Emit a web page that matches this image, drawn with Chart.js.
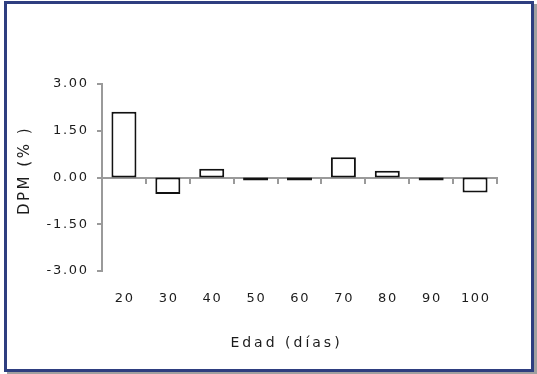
<!DOCTYPE html>
<html>
<head>
<meta charset="utf-8">
<script src="https://cdn.jsdelivr.net/npm/chart.js@4/dist/chart.umd.min.js"></script>
<style>
    body { margin: 0; background: #fff; }
    #marco {
        position: absolute; left: 4px; top: 1px;
        width: 524px; height: 365px;
        border: 3px solid #2e3e80;
        box-shadow: 3px 3px 0 #a0a0a0;
        background: #fff;
    }
    #grafico { position: absolute; left: 0; top: 0; }
</style>
</head>
<body>
<div id="marco"></div>
<canvas id="grafico" width="537" height="374"></canvas>
<script>
// Datos del grafico
const edades = ["20", "30", "40", "50", "60", "70", "80", "90", "100"];
const dpm = [2.11, -0.53, 0.28, -0.10, -0.10, 0.65, 0.22, -0.10, -0.48];
const tituloX = "Edad (días)";
const tituloY = "DPM (% )";

const fuente = "'DejaVu Sans', Verdana, sans-serif";
const gris = "#9a9a9a";
const colorTexto = "#1c1c1c";

// Textos con espaciado entre letras (el canvas pierde letterSpacing al cambiar la fuente)
const textosPlugin = {
    id: "textos",
    afterDraw(chart) {
        const ctx = chart.ctx;
        const area = chart.chartArea;
        const sx = chart.scales.x;
        const sy = chart.scales.y;
        ctx.save();
        ctx.fillStyle = colorTexto;
        ctx.textBaseline = "middle";

        // etiquetas del eje Y
        ctx.font = "13px " + fuente;
        ctx.letterSpacing = "1.7px";
        ctx.textAlign = "right";
        sy.ticks.forEach((t, i) => {
            ctx.fillText(t.label, sy.right - 15 + 1.7, sy.getPixelForTick(i));
        });

        // etiquetas del eje X
        ctx.textAlign = "center";
        sx.ticks.forEach((t, i) => {
            ctx.fillText(t.label, sx.getPixelForTick(i) + 0.8, 299);
        });

        // titulos
        ctx.font = "14px " + fuente;
        ctx.letterSpacing = "3px";
        ctx.fillText(tituloX, (area.left + area.right) / 2 - 13, 343);
        ctx.translate(25, (area.top + area.bottom) / 2 - 5);
        ctx.rotate(-Math.PI / 2);
        ctx.font = "15px " + fuente;
        ctx.letterSpacing = "2.5px";
        ctx.fillText(tituloY, 2, 0);
        ctx.restore();
    }
};

new Chart(document.getElementById("grafico"), {
    type: "bar",
    data: {
        labels: edades,
        datasets: [{
            data: dpm,
            xAxisID: "x",
            backgroundColor: "#ffffff",
            borderColor: "#111111",
            borderWidth: 2,
            borderSkipped: false,
            barPercentage: 0.57,
            categoryPercentage: 1
        }]
    },
    options: {
        responsive: false,
        animation: false,
        devicePixelRatio: 1,
        layout: { padding: { top: 84, right: 40, left: 0, bottom: 0 } },
        plugins: { legend: { display: false }, tooltip: { enabled: false } },
        scales: {
            x: {
                position: "bottom",
                offset: true,
                grid: { display: false, drawTicks: false },
                border: { display: false },
                ticks: { color: "rgba(0,0,0,0)", font: { family: fuente, size: 13 }, padding: 21, maxRotation: 0 },
                afterFit(scale) { scale.height = 103; }
            },
            x2: {
                type: "category",
                labels: edades,
                position: { y: 0 },
                offset: true,
                grid: { offset: true, drawOnChartArea: false, tickLength: 5, color: gris, lineWidth: 2 },
                border: { color: gris, width: 2 },
                ticks: { display: false }
            },
            y: {
                min: -3,
                max: 3,
                ticks: {
                    stepSize: 1.5,
                    color: "rgba(0,0,0,0)",
                    padding: 10,
                    font: { family: fuente, size: 13 },
                    callback: (v) => v.toFixed(2)
                },
                grid: {
                    drawOnChartArea: false,
                    tickLength: 5,
                    color: gris,
                    lineWidth: (c) => (c.tick && c.tick.value === 0 ? 0 : 2),
                    tickWidth: 2
                },
                border: { color: gris, width: 2 },
                afterFit(scale) { scale.width = 102; }
            }
        }
    },
    plugins: [textosPlugin]
});
</script>
</body>
</html>
